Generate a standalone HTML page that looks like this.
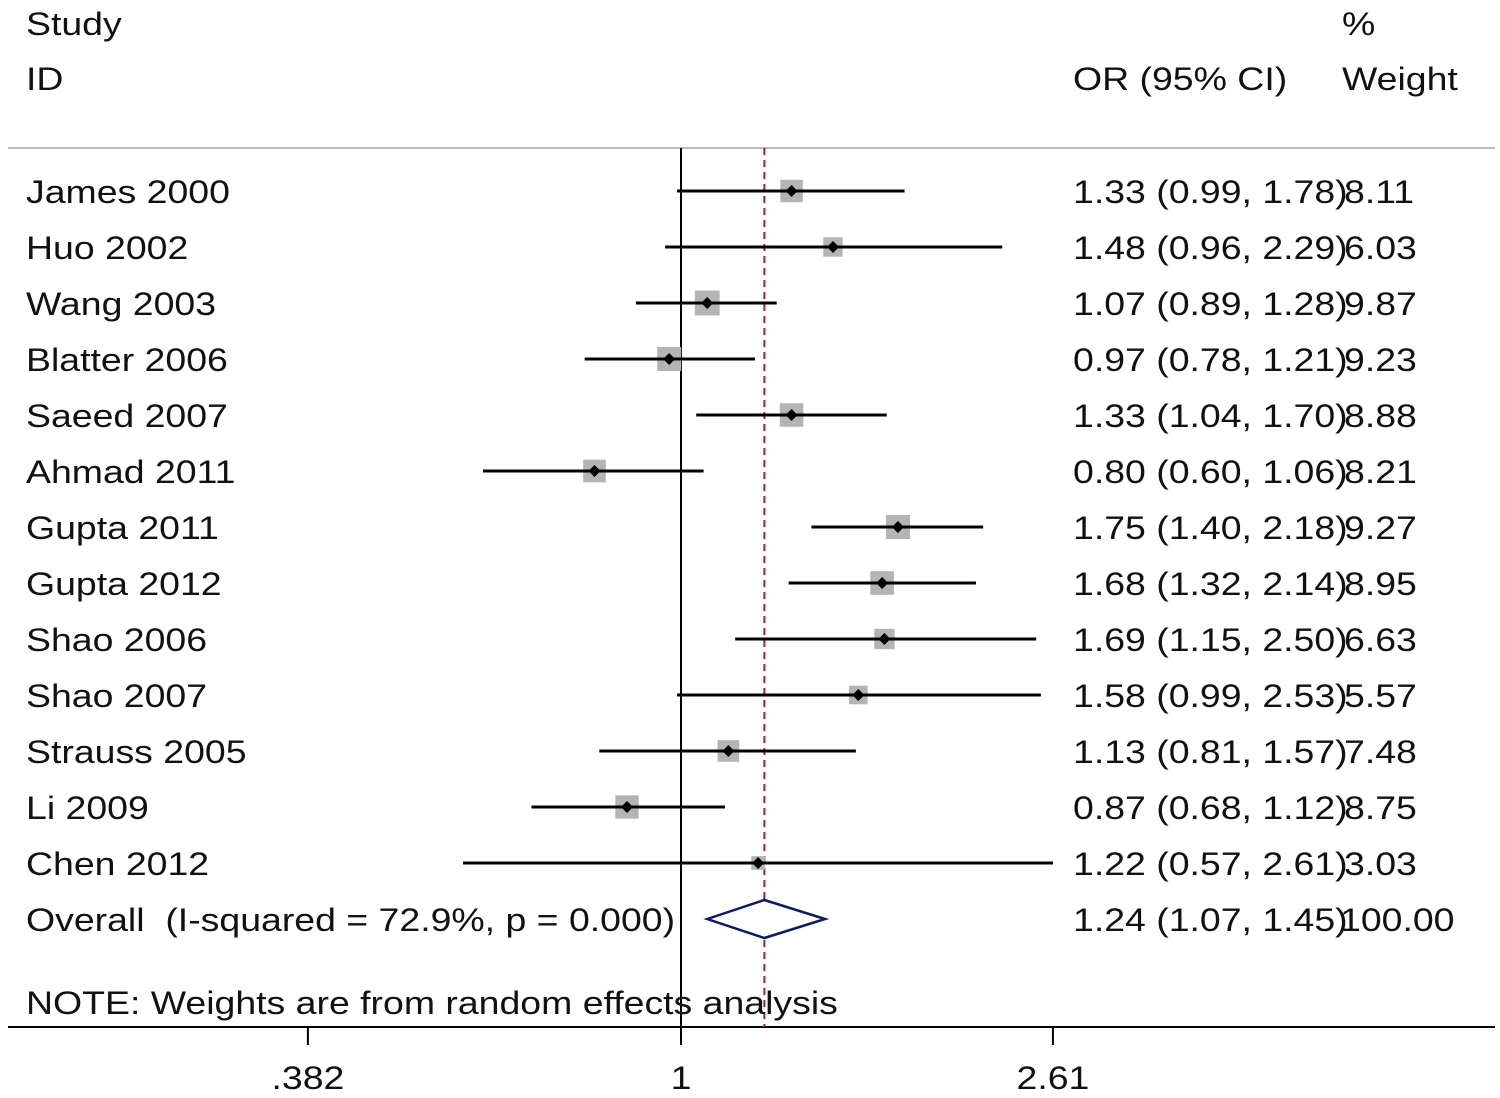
<!DOCTYPE html>
<html><head><meta charset="utf-8"><style>
html,body{margin:0;padding:0;background:#fff;}
svg{display:block;font-family:"Liberation Sans",Arial,sans-serif;}
text{white-space:pre;}
</style></head><body>
<svg id="chart" width="1500" height="1098" viewBox="0 0 1500 1098">
<g id="static" font-size="32" fill="#111">
<text transform="translate(26,35) scale(1.17,1)">Study</text>
<text transform="translate(26,90) scale(1.17,1)">ID</text>
<text transform="translate(1073,90) scale(1.17,1)">OR (95% CI)</text>
<text transform="translate(1342,35) scale(1.17,1)">%</text>
<text transform="translate(1342,90) scale(1.17,1)">Weight</text>
<line x1="8" y1="148" x2="1495" y2="148" stroke="#bbb" stroke-width="2"/>
<line x1="8" y1="1027" x2="1495" y2="1027" stroke="#000" stroke-width="2"/>
</g>
<g id="dyn"></g>
<g font-size="32" fill="#111">
<text transform="translate(26,1014) scale(1.17,1)">NOTE: Weights are from random effects analysis</text>
</g>
</svg>
<script>
const studies=["James 2000","Huo 2002","Wang 2003","Blatter 2006","Saeed 2007","Ahmad 2011","Gupta 2011","Gupta 2012","Shao 2006","Shao 2007","Strauss 2005","Li 2009","Chen 2012"];
const orVals=[1.33,1.48,1.07,0.97,1.33,0.80,1.75,1.68,1.69,1.58,1.13,0.87,1.22];
const lowVals=[0.99,0.96,0.89,0.78,1.04,0.60,1.40,1.32,1.15,0.99,0.81,0.68,0.57];
const highVals=[1.78,2.29,1.28,1.21,1.70,1.06,2.18,2.14,2.50,2.53,1.57,1.12,2.61];
const weights=[8.11,6.03,9.87,9.23,8.88,8.21,9.27,8.95,6.63,5.57,7.48,8.75,3.03];
const overall=[1.24,1.07,1.45];
const overallLabel="Overall  (I-squared = 72.9%, p = 0.000)";
const tickVals=[0.382,1,2.61];
const tickLabels=[".382","1","2.61"];
const NS="http://www.w3.org/2000/svg";
const g=document.getElementById('dyn');
function xs(v){return 681+387.7*Math.log(v);}
function ys(i){return 191+56*i;}
function mk(tag,attrs,txt){const e=document.createElementNS(NS,tag);for(const k in attrs)e.setAttribute(k,attrs[k]);if(txt!==undefined)e.textContent=txt;g.appendChild(e);return e;}
function tx(x,y,s,anchor){return mk('text',{transform:`translate(${x},${y}) scale(1.17,1)`,'font-size':32,fill:'#111','text-anchor':anchor||'start'},s);}
let e=mk('line',{x1:xs(1),y1:148,x2:xs(1),y2:1027,stroke:'#000','stroke-width':2});


e=mk('line',{x1:xs(overall[0]),y1:148,x2:xs(overall[0]),y2:1027,stroke:'#9b2335','stroke-width':2,'stroke-dasharray':'7,5'});


function fmt(v){return v.toFixed(2);}
studies.forEach((s,i)=>{
  const y=ys(i);
  let t=tx(26,y+12,s);
  
  
  const side=7.9*Math.sqrt(weights[i]);
  let r=mk('rect',{x:xs(orVals[i])-side/2,y:y-side/2,width:side,height:side,fill:'#b4b4b4'});
  
  
  let l=mk('line',{x1:xs(lowVals[i]),y1:y,x2:xs(highVals[i]),y2:y,stroke:'#000','stroke-width':3});
  
  
  const cx=xs(orVals[i]);
  let d=mk('path',{d:`M${cx-6},${y}L${cx},${y-6}L${cx+6},${y}L${cx},${y+6}Z`,fill:'#000'});
  
  
  let c=tx(1073,y+12,`${fmt(orVals[i])} (${fmt(lowVals[i])}, ${fmt(highVals[i])})`);
  
  
  let w=tx(1344,y+12,fmt(weights[i]));
  
  
});
const oy=ys(studies.length);
let ot=tx(26,oy+12,overallLabel);


let dia=mk('path',{d:`M${xs(overall[1])},${oy}L${xs(overall[0])},${oy-19}L${xs(overall[2])},${oy}L${xs(overall[0])},${oy+19}Z`,fill:'#fff',stroke:'#0b1a6e','stroke-width':2.5});


let oc=tx(1073,oy+12,`${fmt(overall[0])} (${fmt(overall[1])}, ${fmt(overall[2])})`);


let ow=tx(1340,oy+12,"100.00");


tickVals.forEach((v,i)=>{
  let tk=mk('line',{x1:xs(v),y1:1027,x2:xs(v),y2:1045,stroke:'#000','stroke-width':2});
  
  
  let tl=tx(xs(v),1089,tickLabels[i],'middle');
  
  
});
</script>
</body></html>
